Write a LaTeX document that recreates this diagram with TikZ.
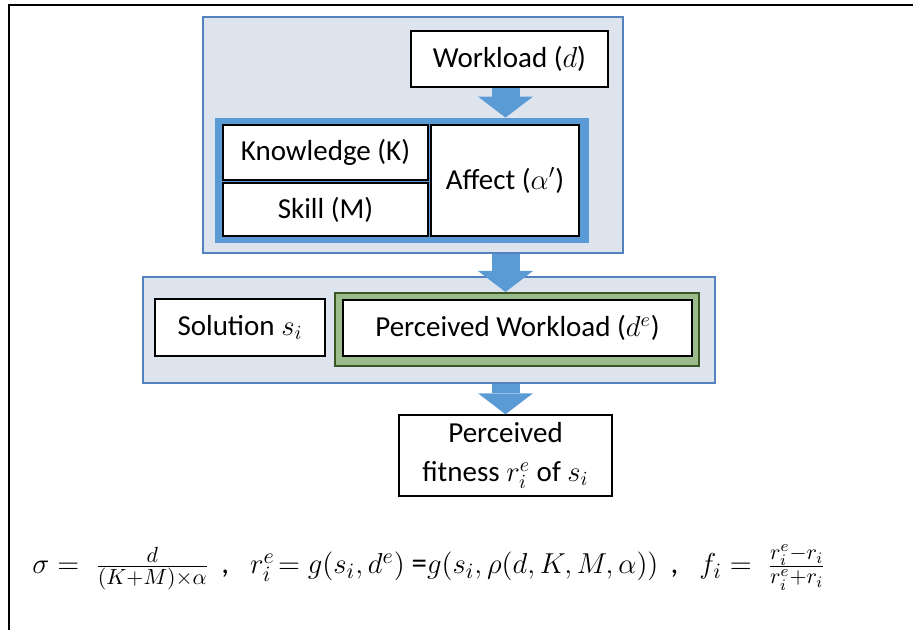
\documentclass[tikz,border=0pt]{standalone}
\usepackage{fontspec}
\setmainfont{Carlito}
\usetikzlibrary{arrows.meta}
\definecolor{panelgray}{RGB}{222,228,238}
\definecolor{panelline}{RGB}{84,130,190}
\definecolor{frameblue}{RGB}{91,155,213}
\definecolor{framegreen}{RGB}{155,187,140}
\definecolor{darkgreen}{RGB}{56,87,35}

\begin{document}
\begin{tikzpicture}
	[x=0.5pt, y=-0.5pt,
	font=\fontsize{14.5}{17.5}\selectfont,
	panel/.style ={rectangle, draw=panelline, line width=0.6pt, fill=panelgray, inner sep=0pt},
	box/.style ={rectangle, draw=black, line width=0.7pt, fill=white, align=center, inner sep=0pt},
	blueframe/.style ={rectangle, fill=frameblue, inner sep=0pt},
	greenframe/.style ={rectangle, draw=darkgreen, line width=1pt, fill=framegreen, inner sep=0pt},
	barrow/.style ={draw=frameblue, line width=14pt, -{Triangle[length=10.5pt, width=27.5pt, line width=0pt]}},
	formula/.style ={anchor=base west, inner sep=0pt, font=\fontsize{15.5}{18.5}\selectfont},
	frame/.style ={draw, line width=0.8pt}]
	\useasboundingbox (0,0) rectangle (918,630);
	\draw[frame] (9,630) -- (9,5) -- (913,5);
	\draw (413,135) node[panel, minimum width=210pt, minimum height=118pt] (top) {};
	\draw (509.5,59) node[box, minimum width=98.5pt, minimum height=28pt] (wl) {Workload ($d$)};
	\draw (402,180.5) node[blueframe, minimum width=187pt, minimum height=62.5pt] (bf) {};
	\draw (325.5,152.5) node[box, minimum width=102.5pt, minimum height=27.5pt] (kn) {Knowledge (K)};
	\draw (325.5,209.5) node[box, minimum width=102.5pt, minimum height=26.5pt] (sk) {Skill (M)};
	\draw (505,180.5) node[box, minimum width=74pt, minimum height=55.5pt] (af) {Affect ($\alpha'$)};
	\draw (429,330) node[panel, minimum width=286pt, minimum height=53pt] (mid) {};
	\draw (240,327.5) node[box, minimum width=85pt, minimum height=28.5pt] (sol) {Solution $s_i$};
	\draw (517,329.5) node[greenframe, minimum width=182pt, minimum height=36.5pt] (gf) {};
	\draw (517.5,328) node[box, minimum width=174.5pt, minimum height=28pt] (pw) {Perceived Workload ($d^e$)};
	\draw (505.5,455.5) node[box, minimum width=106.5pt, minimum height=40.5pt] (fit) {Perceived\\[2pt]fitness $r_i^e$ of $s_i$};
	\draw (32,574) node[formula] (eq) {$\sigma =\; \frac{d}{(K+M)\times\alpha}$\, ,\ \ \ $r_i^e\!= g(s_i,d^e)$ =$g\bigl(s_i,\rho(d,K,M,\alpha)\bigr)$\, ,\ \ \ $f_i =\; \frac{r_i^e-r_i}{r_i^e+r_i}$};
	\draw[barrow] (fit.north |- wl.south) -- (fit.north |- bf.north);
	\draw[barrow] (fit.north |- top.south) -- (fit.north |- gf.north);
	\draw[barrow] (fit.north |- mid.south) -- (fit.north);
\end{tikzpicture}
\end{document}
